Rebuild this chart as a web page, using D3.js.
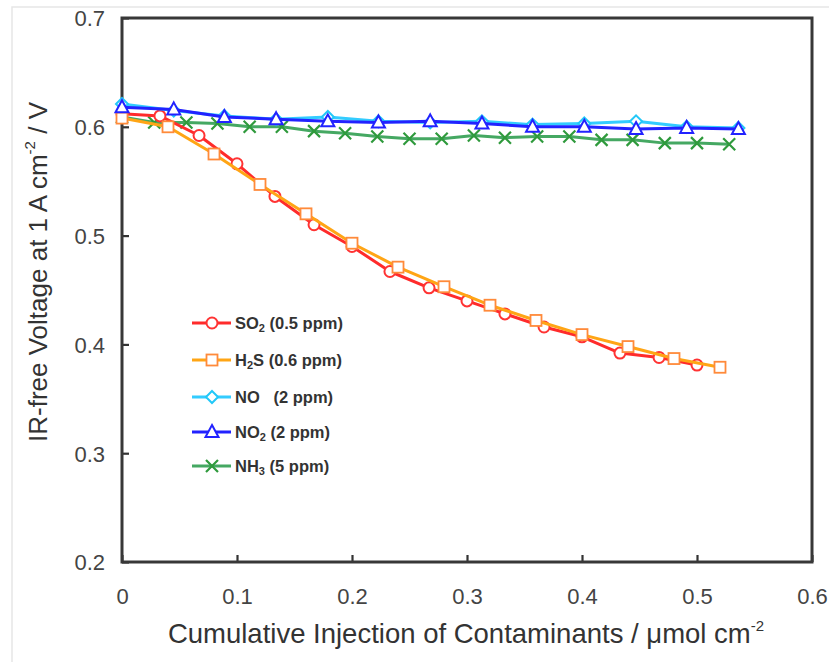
<!DOCTYPE html>
<html>
<head>
<meta charset="utf-8">
<script src="https://cdn.jsdelivr.net/npm/d3@7"></script>
<style>
  body { margin: 0; background: #fff; }
  text { font-family: "Liberation Sans", Arial, sans-serif; }
</style>
</head>
<body>
<script>
// data
var so2X = [0, 0.033, 0.067, 0.1, 0.133, 0.167, 0.2, 0.233, 0.267, 0.3, 0.333, 0.367, 0.4, 0.433, 0.467, 0.5];
var so2Y = [0.612, 0.610, 0.592, 0.566, 0.536, 0.510, 0.490, 0.467, 0.452, 0.440, 0.428, 0.416, 0.407, 0.392, 0.388, 0.381];

var h2sX = [0, 0.04, 0.08, 0.12, 0.16, 0.2, 0.24, 0.28, 0.32, 0.36, 0.4, 0.44, 0.48, 0.52];
var h2sY = [0.608, 0.600, 0.575, 0.547, 0.520, 0.493, 0.471, 0.453, 0.436, 0.422, 0.409, 0.398, 0.387, 0.379];

var noX = [0, 0.045, 0.089, 0.134, 0.179, 0.223, 0.268, 0.313, 0.357, 0.402, 0.447, 0.491, 0.536];
var noY = [0.621, 0.615, 0.610, 0.607, 0.609, 0.605, 0.604, 0.605, 0.602, 0.603, 0.605, 0.600, 0.599];

var no2X = [0, 0.045, 0.089, 0.134, 0.179, 0.223, 0.268, 0.313, 0.357, 0.402, 0.447, 0.491, 0.536];
var no2Y = [0.618, 0.616, 0.609, 0.607, 0.605, 0.604, 0.605, 0.603, 0.600, 0.600, 0.598, 0.599, 0.598];

var nh3X = [0, 0.028, 0.056, 0.083, 0.111, 0.139, 0.167, 0.194, 0.222, 0.25, 0.278, 0.306, 0.333, 0.361, 0.389, 0.417, 0.444, 0.472, 0.5, 0.528];
var nh3Y = [0.609, 0.604, 0.604, 0.603, 0.600, 0.600, 0.596, 0.594, 0.591, 0.589, 0.589, 0.592, 0.590, 0.591, 0.591, 0.588, 0.588, 0.585, 0.585, 0.584];

var xTicks = [0, 0.1, 0.2, 0.3, 0.4, 0.5, 0.6];
var yTicks = [0.2, 0.3, 0.4, 0.5, 0.6, 0.7];

var series = [
  {name: "NH3", sub: "3", base: "NH", rest: " (5 ppm)", xs: nh3X, ys: nh3Y, line: "#45a862", mark: "#2f9a3c", shape: "x"},
  {name: "SO2", sub: "2", base: "SO", rest: " (0.5 ppm)", xs: so2X, ys: so2Y, line: "#ff2b2b", mark: "#ff3333", shape: "circle"},
  {name: "H2S", sub: "2", base: "H", rest: "S (0.6 ppm)", xs: h2sX, ys: h2sY, line: "#ffa515", mark: "#ff8a3a", shape: "square"},
  {name: "NO", sub: "", base: "NO", rest: "   (2 ppm)", xs: noX, ys: noY, line: "#33ccff", mark: "#22c8f8", shape: "diamond"},
  {name: "NO2", sub: "2", base: "NO", rest: " (2 ppm)", xs: no2X, ys: no2Y, line: "#2222ff", mark: "#2222ff", shape: "triangle"}
];
var legendOrder = ["SO2", "H2S", "NO", "NO2", "NH3"];

var width = 690, height = 544;
var margin = {left: 122, top: 18};

var svg = d3.select("body").append("svg").attr("width", 835).attr("height", 662);

// faint screenshot border
svg.append("path").attr("d", "M12,662 L12,7 L829,7").attr("fill", "none").attr("stroke", "#e6e6e6").attr("stroke-width", 1.5);

var x = d3.scaleLinear().domain([0, 0.6]).range([0, width]);
var y = d3.scaleLinear().domain([0.2, 0.7]).range([height, 0]);

var g = svg.append("g").attr("transform", "translate(" + margin.left + "," + margin.top + ")");

var fmt = function(d) { return d === 0 ? "0" : d3.format(".1f")(d); };

var yAxis = d3.axisLeft(y).tickValues(yTicks).tickSize(-7).tickSizeOuter(0).tickPadding(17).tickFormat(fmt);
var xAxis = d3.axisBottom(x).tickValues(xTicks).tickSize(-7).tickSizeOuter(0).tickPadding(26).tickFormat(fmt);

g.append("g").attr("class", "axis y").call(yAxis);
g.append("g").attr("class", "axis x").attr("transform", "translate(0," + height + ")").call(xAxis);

g.selectAll(".axis path").remove();
g.selectAll(".axis line").attr("stroke", "#333").attr("stroke-width", 2.2);
g.selectAll(".axis text").attr("font-size", 22).attr("fill", "#444");
g.selectAll(".axis.y text").attr("dy", "0.36em");

g.append("rect").attr("width", width).attr("height", height)
  .attr("fill", "none").attr("stroke", "#383838").attr("stroke-width", 3);

var line = d3.line().x(function(d) { return x(d[0]); }).y(function(d) { return y(d[1]); });

function drawMarker(sel, s, cx, cy) {
  var r = 5.5;
  if (s.shape === "circle") {
    sel.append("circle").attr("cx", cx).attr("cy", cy).attr("r", r)
      .attr("fill", "#fff").attr("stroke", s.mark).attr("stroke-width", 2);
  } else if (s.shape === "square") {
    sel.append("rect").attr("x", cx - 5.5).attr("y", cy - 5.5).attr("width", 11).attr("height", 11)
      .attr("fill", "#fff").attr("stroke", s.mark).attr("stroke-width", 1.8);
  } else if (s.shape === "diamond") {
    sel.append("path").attr("d", "M" + cx + "," + (cy - 6) + "L" + (cx + 6) + "," + cy + "L" + cx + "," + (cy + 6) + "L" + (cx - 6) + "," + cy + "Z")
      .attr("fill", "#fff").attr("stroke", s.mark).attr("stroke-width", 2);
  } else if (s.shape === "triangle") {
    sel.append("path").attr("d", "M" + cx + "," + (cy - 7) + "L" + (cx + 6.5) + "," + (cy + 5) + "L" + (cx - 6.5) + "," + (cy + 5) + "Z")
      .attr("fill", "#fff").attr("stroke", s.mark).attr("stroke-width", 2);
  } else {
    sel.append("path").attr("d", "M" + (cx - 6) + "," + (cy - 6) + "L" + (cx + 6) + "," + (cy + 6) + "M" + (cx + 6) + "," + (cy - 6) + "L" + (cx - 6) + "," + (cy + 6))
      .attr("fill", "none").attr("stroke", s.mark).attr("stroke-width", 2.2);
  }
}

series.forEach(function(s) {
  var pts = s.xs.map(function(v, i) { return [v, s.ys[i]]; });
  var sg = g.append("g");
  sg.append("path").attr("d", line(pts)).attr("fill", "none")
    .attr("stroke", s.line).attr("stroke-width", 3).attr("stroke-linejoin", "round");
  pts.forEach(function(p) { drawMarker(sg, s, x(p[0]), y(p[1])); });
});

// legend
var legendRows = [323, 360, 397, 432, 466];
var legend = svg.append("g");
legendOrder.forEach(function(nm, i) {
  var s = series.filter(function(d) { return d.name === nm; })[0];
  var ly = legendRows[i];
  legend.append("line").attr("x1", 192).attr("x2", 231).attr("y1", ly).attr("y2", ly)
    .attr("stroke", s.line).attr("stroke-width", 3);
  drawMarker(legend, s, 212, ly);
  var t = legend.append("text").attr("x", 235).attr("y", ly + 6)
    .attr("font-size", 16.5).attr("font-weight", "bold").attr("fill", "#333")
    .attr("xml:space", "preserve");
  t.append("tspan").text(s.base);
  if (s.sub) {
    t.append("tspan").attr("font-size", 11).attr("dy", 3).text(s.sub);
    t.append("tspan").attr("dy", -3).text(s.rest);
  } else {
    t.append("tspan").text(s.rest);
  }
});

// axis titles
var xt = svg.append("text").attr("x", 466).attr("y", 643).attr("text-anchor", "middle")
  .attr("font-size", 27.5).attr("fill", "#333");
xt.append("tspan").text("Cumulative Injection of Contaminants / \u03bcmol cm");
xt.append("tspan").attr("font-size", 15).attr("dy", -12).text("-2");

var yt = svg.append("text").attr("transform", "translate(47,272) rotate(-90)").attr("text-anchor", "middle")
  .attr("font-size", 26).attr("fill", "#333");
yt.append("tspan").text("IR-free Voltage at 1 A cm");
yt.append("tspan").attr("font-size", 15).attr("dy", -12).text("-2");
yt.append("tspan").attr("dy", 12).text(" / V");
</script>
</body>
</html>
